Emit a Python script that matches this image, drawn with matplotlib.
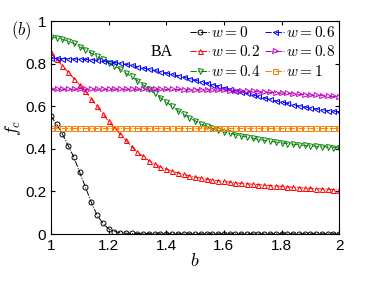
import matplotlib
matplotlib.use("Agg")
import matplotlib.pyplot as plt
import numpy as np

plt.rcParams['font.family'] = ['Liberation Sans', 'DejaVu Sans']
plt.rcParams['mathtext.fontset'] = 'cm'

# b from 1 to 2, step 0.02
b = np.round(np.arange(1.0, 2.0001, 0.02), 2)

w0 = [0.555, 0.515, 0.47, 0.415, 0.36, 0.29, 0.22, 0.15, 0.09, 0.05,
      0.025, 0.012, 0.006, 0.004, 0.003, 0.002, 0.002, 0.002, 0.001, 0.001,
      0.001, 0.001, 0.001, 0.001, 0.001, 0.001, 0.001, 0.001, 0.001, 0.001,
      0.001, 0.001, 0.001, 0.001, 0.001, 0.001, 0.001, 0.001, 0.001, 0.001,
      0.001, 0.001, 0.001, 0.001, 0.001, 0.001, 0.001, 0.001, 0.001, 0.001,
      0.001]
w02 = [0.855, 0.82, 0.79, 0.76, 0.73, 0.70, 0.67, 0.635, 0.60, 0.565,
       0.53, 0.50, 0.47, 0.44, 0.41, 0.385, 0.365, 0.345, 0.33, 0.315,
       0.305, 0.295, 0.288, 0.28, 0.274, 0.268, 0.263, 0.258, 0.254, 0.25,
       0.247, 0.244, 0.241, 0.238, 0.236, 0.234, 0.232, 0.23, 0.228, 0.226,
       0.224, 0.222, 0.22, 0.218, 0.216, 0.215, 0.213, 0.212, 0.21, 0.209,
       0.207]
w04 = [0.925, 0.92, 0.915, 0.905, 0.895, 0.88, 0.865, 0.85, 0.835, 0.82,
       0.805, 0.79, 0.775, 0.755, 0.74, 0.72, 0.70, 0.68, 0.66, 0.64,
       0.62, 0.60, 0.58, 0.562, 0.546, 0.532, 0.518, 0.507, 0.497, 0.488,
       0.48, 0.473, 0.467, 0.461, 0.455, 0.45, 0.445, 0.44, 0.436, 0.432,
       0.428, 0.425, 0.422, 0.419, 0.416, 0.414, 0.412, 0.41, 0.408, 0.406,
       0.405]
w06 = [0.825, 0.825, 0.824, 0.823, 0.822, 0.821, 0.82, 0.818, 0.816, 0.813,
       0.81, 0.806, 0.802, 0.797, 0.792, 0.786, 0.78, 0.774, 0.768, 0.762,
       0.756, 0.75, 0.744, 0.737, 0.73, 0.723, 0.716, 0.709, 0.702, 0.695,
       0.688, 0.681, 0.674, 0.667, 0.66, 0.653, 0.646, 0.639, 0.632, 0.626,
       0.62, 0.614, 0.608, 0.602, 0.597, 0.592, 0.588, 0.584, 0.58, 0.577,
       0.575]
w08 = [0.68, 0.68, 0.68, 0.68, 0.68, 0.68, 0.68, 0.68, 0.68, 0.68,
       0.68, 0.68, 0.68, 0.68, 0.68, 0.68, 0.68, 0.68, 0.68, 0.68,
       0.679, 0.679, 0.679, 0.678, 0.678, 0.678, 0.677, 0.677, 0.676, 0.676,
       0.675, 0.674, 0.673, 0.672, 0.671, 0.67, 0.668, 0.667, 0.665, 0.664,
       0.662, 0.66, 0.658, 0.656, 0.655, 0.653, 0.651, 0.65, 0.648, 0.646,
       0.645]
w1 = [0.5] * 51

series = [
    (w0, 'k', 'o', r'$w=0$'),
    (w02, 'r', '^', r'$w=0.2$'),
    (w04, 'g', 'v', r'$w=0.4$'),
    (w06, 'b', '<', r'$w=0.6$'),
    (w08, 'm', '>', r'$w=0.8$'),
    (w1, '#ff7f00', 's', r'$w=1$'),
]

fig = plt.figure(figsize=(3.74, 2.81), dpi=100)
ax = fig.add_axes([0.136, 0.167, 0.771, 0.758])

for ys, c, m, lab in series:
    ax.plot(b, ys, linestyle='-.', color=c, marker=m, markersize=3.6,
            fillstyle='none', linewidth=0.7, markeredgewidth=0.7, label=lab)

ax.set_xlim(1, 2)
ax.set_ylim(0, 1)
ax.set_xticks([1, 1.2, 1.4, 1.6, 1.8, 2])
ax.set_xticklabels(['1', '1.2', '1.4', '1.6', '1.8', '2'])
ax.set_yticks([0, 0.2, 0.4, 0.6, 0.8, 1])
ax.set_yticklabels(['0', '0.2', '0.4', '0.6', '0.8', '1'])
ax.tick_params(direction='in', top=True, right=True, labelsize=11, length=3)
ax.set_xlabel(r'$b$', fontsize=13, labelpad=0)
ax.set_ylabel(r'$f_c$', fontsize=13, labelpad=1)

ax.legend(ncol=2, loc='upper right', frameon=False, fontsize=11,
          handlelength=1.3, handletextpad=0.1, columnspacing=0.3,
          labelspacing=0.3, borderaxespad=0.0, bbox_to_anchor=(1.0, 1.0),
          borderpad=0.25)
fig.text(0.03, 0.89, r'$(b)$', fontsize=12, va='center', ha='left')
ax.text(0.385, 0.855, 'BA', transform=ax.transAxes, fontsize=11.5,
        va='center', ha='center', family='Liberation Serif')

fig.savefig('out.png', dpi=100)
